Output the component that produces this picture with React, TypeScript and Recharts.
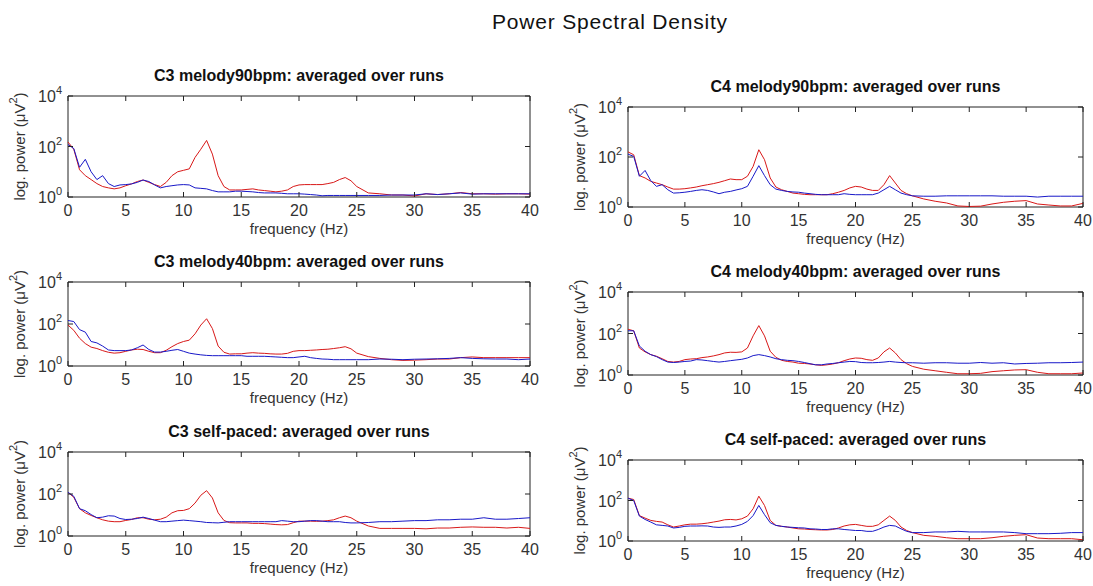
import { LineChart, Line, XAxis, YAxis, ReferenceArea } from 'recharts';

// frequency grid (Hz): 0.5 Hz up to 25, then 1 Hz
const freq = [
    0, 0.5, 1, 1.5, 2, 2.5, 3, 3.5, 4, 4.5,
    5, 5.5, 6, 6.5, 7, 7.5, 8, 8.5, 9, 9.5,
    10, 10.5, 11, 11.5, 12, 12.5, 13, 13.5, 14, 14.5,
    15, 15.5, 16, 16.5, 17, 17.5, 18, 18.5, 19, 19.5,
    20, 20.5, 21, 21.5, 22, 22.5, 23, 23.5, 24, 24.5,
    25, 26, 27, 28, 29, 30, 31, 32, 33, 34, 35, 36, 37, 38, 39, 40,
];

const xTicks = [0, 5, 10, 15, 20, 25, 30, 35, 40];
const yTicks = [1, 100, 10000];
const yTickExp = ['0', '2', '4'];

// power values (µV^2)
const c3m90Red = [
    150, 78, 12, 7, 4.9, 3.4, 2.6, 2.3, 2.1, 2.3,
    2.8, 3.3, 4.1, 4.7, 3.8, 3.1, 2.6, 3.8, 7, 10,
    11.4, 13, 37, 78, 174, 50, 7, 2.6, 1.9, 1.9,
    1.9, 2.0, 2.1, 1.9, 1.8, 1.7, 1.6, 1.7, 1.9, 2.6,
    3.0, 3.1, 3.1, 3.1, 3.1, 3.4, 3.8, 4.9, 5.9, 4.4,
    2.6, 1.45, 1.34, 1.2, 1.2, 1.1, 1.34, 1.25, 1.34, 1.5, 1.34, 1.34, 1.3, 1.34, 1.34, 1.3,
];
const c3m90Blue = [
    120, 83, 15, 31, 10, 4.9, 7, 3.4, 2.6, 3.0,
    3.1, 3.3, 3.8, 4.7, 4.1, 3.0, 2.3, 2.6, 2.8, 3.0,
    3.1, 3.0, 2.3, 2.2, 2.1, 1.8, 1.6, 1.6, 1.6, 1.7,
    1.7, 1.65, 1.6, 1.5, 1.45, 1.45, 1.45, 1.4, 1.34, 1.34,
    1.34, 1.3, 1.25, 1.2, 1.12, 1.15, 1.15, 1.15, 1.15, 1.15,
    1.15, 1.15, 1.15, 1.2, 1.2, 1.2, 1.34, 1.25, 1.34, 1.45, 1.3, 1.34, 1.34, 1.34, 1.34, 1.34,
];
const c4m90Red = [
    160, 123, 18, 14.5, 10.6, 9.1, 7.8, 6.3, 5.2, 5.2,
    5.4, 5.8, 6.3, 7.1, 7.8, 8.6, 9.7, 11.3, 13.2, 12.4,
    12.4, 17, 42, 195, 78, 14.5, 6.3, 4.9, 4.2, 3.6,
    3.4, 3.2, 3.1, 3.1, 3.1, 3.1, 3.4, 3.9, 4.6, 5.8,
    6.7, 6.3, 5.2, 4.6, 4.6, 7.8, 18, 9.1, 4.6, 3.4,
    2.8, 2.1, 1.7, 1.45, 1.1, 1.05, 1.08, 1.32, 1.54, 1.7, 1.8, 1.32, 1.2, 1.1, 1.1, 1.4,
];
const c4m90Blue = [
    130, 106, 17, 29, 11.3, 6.7, 7.8, 4.9, 3.6, 3.7,
    3.9, 4.2, 4.6, 4.9, 4.6, 4.0, 3.4, 3.9, 4.2, 4.8,
    5.4, 6.7, 17, 45, 18, 7.8, 5.2, 4.6, 4.2, 4.0,
    3.9, 3.6, 3.4, 3.2, 3.1, 3.1, 3.1, 3.1, 3.4, 3.2,
    3.1, 3.1, 3.1, 3.1, 3.6, 4.9, 6.7, 4.9, 3.6, 3.1,
    2.8, 2.7, 2.7, 2.8, 2.8, 2.8, 2.8, 2.8, 2.7, 2.7, 2.7, 2.5, 2.7, 2.7, 2.7, 2.7,
];
const c3m40Red = [
    89, 50, 21, 11.7, 7.9, 6.8, 5.4, 4.5, 4.1, 4.3,
    5, 5.8, 6.3, 6.1, 5, 4.3, 4.3, 5.6, 8.3, 11.7,
    14.7, 17, 34, 89, 178, 61, 8.9, 4.5, 3.7, 3.8,
    3.8, 4.1, 4.3, 4.1, 4.0, 3.8, 3.7, 3.7, 4.0, 5,
    5.4, 5.4, 5.6, 5.8, 6.1, 6.3, 6.8, 7.4, 8.3, 6.6,
    4.1, 2.8, 2.3, 2.0, 1.85, 1.9, 2.0, 2.15, 2.15, 2.5, 2.7, 2.5, 2.5, 2.5, 2.5, 2.5,
];
const c3m40Blue = [
    147, 131, 54, 41, 14.7, 12.6, 8.9, 5.8, 5.4, 5.4,
    5.4, 5.8, 7.4, 10, 6.1, 4.6, 4.6, 5, 5.6, 6.1,
    5, 4.1, 3.7, 3.4, 3.2, 3.1, 3.1, 3.1, 3.1, 3.1,
    3.1, 2.9, 2.9, 2.9, 2.9, 2.8, 2.7, 2.6, 2.5, 2.5,
    2.7, 2.9, 2.5, 2.3, 2.15, 2.1, 2.0, 2.0, 2.0, 2.0,
    2.0, 2.0, 2.15, 2.1, 2.0, 2.1, 2.15, 2.2, 2.3, 2.5, 2.3, 2.2, 2.15, 2.15, 2.0, 2.15,
];
const c4m40Red = [
    160, 135, 20, 13, 9.6, 8, 6.1, 4.5, 4.2, 4.5,
    5.5, 5.9, 6.1, 6.9, 7.4, 8.3, 9.6, 11.6, 12.5, 12.3,
    13, 20, 77, 240, 77, 14, 7.1, 5.1, 4.5, 4.2,
    3.7, 3.6, 3.4, 3.1, 2.9, 3.1, 3.4, 3.9, 4.9, 5.9,
    6.6, 6.4, 5.5, 5.1, 6.6, 13, 20, 11.6, 5.5, 3.5,
    2.6, 1.9, 1.6, 1.35, 1.15, 1.15, 1.2, 1.45, 1.6, 1.75, 1.8, 1.35, 1.15, 1.15, 1.15, 1.25,
];
const c4m40Blue = [
    135, 135, 25, 14, 9.6, 7.7, 5.5, 4.2, 4.0, 4.2,
    4.5, 4.7, 5.5, 5.3, 4.9, 4.5, 4.2, 4.5, 4.9, 5.3,
    5.7, 6.6, 8.6, 9.6, 8.6, 7.4, 6.1, 5.5, 5.1, 4.9,
    4.5, 4.0, 3.5, 3.1, 3.1, 3.4, 3.6, 3.9, 4.2, 4.5,
    4.4, 4.0, 3.9, 3.9, 4.0, 4.2, 4.5, 4.2, 4.0, 3.9,
    3.9, 3.7, 3.9, 3.9, 3.7, 3.7, 4.0, 3.7, 3.9, 3.4, 3.6, 3.7, 3.9, 3.9, 4.0, 4.2,
];
const c3selfRed = [
    120, 70, 20, 12.7, 9.5, 7.4, 5.9, 5.1, 4.8, 4.8,
    5.5, 6.1, 7.4, 7.4, 6.3, 5.9, 6.3, 7.9, 12.7, 16,
    16.5, 20, 37, 87, 144, 65, 12.7, 5.5, 4.3, 4.2,
    4.2, 4.2, 4.0, 4.0, 3.9, 3.7, 3.5, 3.4, 3.5, 4.3,
    5.1, 5.1, 5.1, 5.0, 5.1, 5.4, 5.9, 7.4, 8.9, 7.4,
    5.1, 3.0, 2.3, 2.3, 2.3, 2.3, 2.2, 2.4, 2.4, 2.6, 2.7, 2.6, 2.6, 2.4, 2.6, 2.3,
];
const c3selfBlue = [
    120, 78, 20, 16, 10.5, 7.4, 7.9, 9.2, 8.9, 6.8,
    6.1, 6.3, 6.8, 7.9, 6.8, 5.7, 4.8, 4.8, 5.1, 5.4,
    5.7, 5.4, 5.1, 4.8, 4.4, 4.3, 4.2, 4.5, 4.8, 4.8,
    4.8, 4.8, 4.8, 4.8, 4.8, 4.8, 4.8, 5.4, 5.1, 4.8,
    4.8, 5.1, 5.4, 5.4, 5.1, 4.8, 4.8, 4.8, 4.4, 4.2,
    4.2, 4.4, 4.8, 4.8, 5.1, 5.4, 5.4, 5.9, 5.9, 6.3, 6.3, 7.4, 6.3, 6.3, 6.8, 7.4,
];
const c4selfRed = [
    130, 112, 18, 13.5, 10.4, 9.3, 8.6, 6.3, 4.9, 5.5,
    6.3, 6.8, 6.8, 7.1, 7.7, 8.6, 9.6, 11.2, 11.6, 11,
    12.5, 17, 39, 163, 57, 10.4, 5.9, 5.3, 4.9, 4.4,
    4.0, 3.9, 3.7, 3.6, 3.5, 3.5, 3.7, 4.4, 5.5, 6.3,
    6.6, 5.9, 5.3, 5.3, 6.3, 10.4, 17, 10.4, 4.9, 3.3,
    2.6, 1.9, 1.7, 1.45, 1.3, 1.3, 1.3, 1.45, 1.7, 1.9, 2.05, 1.4, 1.3, 1.3, 1.3, 1.15,
];
const c4selfBlue = [
    130, 100, 17, 11.6, 8.6, 6.3, 5.9, 5.5, 4.4, 4.7,
    5.3, 5.5, 5.5, 5.6, 5.5, 4.9, 4.7, 4.9, 4.9, 5.5,
    6.6, 9.3, 18, 57, 20, 8, 5.9, 5.3, 4.9, 4.7,
    4.5, 4.4, 4.0, 3.9, 3.7, 3.7, 4.0, 4.0, 3.7, 3.5,
    3.3, 3.3, 3.0, 3.0, 3.7, 4.9, 5.9, 5.5, 4.0, 3.0,
    2.6, 2.6, 2.8, 2.8, 3.0, 2.8, 2.8, 2.8, 2.8, 2.6, 2.3, 2.3, 2.3, 2.4, 2.6, 2.6,
];

const FONT = '"Liberation Sans", Arial, sans-serif';
const INK = '#222';
const TM = 4; // tick margin
const Y_AXIS_W = 70;
const X_AXIS_H = 50;
const PAD_TOP = 18; // room above the box for the 10^4 label

const XTick = ({ x, y, payload, plotH }: any) => {
    const ay = y - TM;
    return (
        <g>
            <line x1={x} x2={x} y1={ay} y2={ay - 5} stroke={INK} />
            <line x1={x} x2={x} y1={ay - plotH} y2={ay - plotH + 5} stroke={INK} />
            <text x={x} y={ay + 19} textAnchor="middle" fontSize={16} fill="#333" fontFamily={FONT}>
                {payload.value}
            </text>
        </g>
    );
};

const YTick = ({ x, y, index, plotW }: any) => {
    const ax = x + TM;
    return (
        <g>
            <line x1={ax} x2={ax + 5} y1={y} y2={y} stroke={INK} />
            <line x1={ax + plotW} x2={ax + plotW - 5} y1={y} y2={y} stroke={INK} />
            <text x={ax - 6} y={y + 6} textAnchor="end" fontSize={16} fill="#333" fontFamily={FONT}>
                10<tspan dy={-8} fontSize={11}>{yTickExp[index]}</tspan>
            </text>
        </g>
    );
};

const YLabel = ({ viewBox }: any) => {
    const cx = viewBox.x + viewBox.width - 49;
    const cy = viewBox.y + viewBox.height / 2;
    return (
        <text
            x={cx}
            y={cy}
            transform={`rotate(-90 ${cx} ${cy})`}
            textAnchor="middle"
            dominantBaseline="central"
            fontSize={15}
            fill="#333"
            fontFamily={FONT}
        >
            log. power (μV<tspan dy={-6} fontSize={11}>2</tspan><tspan dy={6}>)</tspan>
        </text>
    );
};

const XLabel = ({ viewBox }: any) => (
    <text
        x={viewBox.x + viewBox.width / 2}
        y={viewBox.y + 37}
        textAnchor="middle"
        fontSize={15}
        fill="#333"
        fontFamily={FONT}
    >
        frequency (Hz)
    </text>
);

interface PanelProps {
    title: string;
    left: number;
    top: number;
    w: number;
    h: number;
    red: number[];
    blue: number[];
}

const Panel = ({ title, left, top, w, h, red, blue }: PanelProps) => {
    const data = freq.map((f, i) => ({ f, red: red[i], blue: blue[i] }));
    return (
        <>
            <div
                style={{
                    position: 'absolute', left, top: top - 30, width: w, textAlign: 'center',
                    fontFamily: FONT, fontWeight: 'bold', fontSize: 16, lineHeight: '20px', color: '#111',
                }}
            >
                {title}
            </div>
            <div style={{ position: 'absolute', left: left - Y_AXIS_W, top: top - PAD_TOP }}>
                <LineChart
                    width={w + Y_AXIS_W + 15}
                    height={h + PAD_TOP + X_AXIS_H}
                    data={data}
                    margin={{ top: PAD_TOP, right: 15, left: 0, bottom: 0 }}
                >
                    <XAxis
                        dataKey="f"
                        type="number"
                        domain={[0, 40]}
                        ticks={xTicks}
                        height={X_AXIS_H}
                        axisLine={false}
                        tickLine={false}
                        tickSize={0}
                        tickMargin={TM}
                        interval={0}
                        tick={(p: any) => <XTick {...p} plotH={h} />}
                        label={{ content: XLabel }}
                    />
                    <YAxis
                        scale="log"
                        domain={[1, 10000]}
                        allowDataOverflow
                        ticks={yTicks}
                        width={Y_AXIS_W}
                        axisLine={false}
                        tickLine={false}
                        tickSize={0}
                        tickMargin={TM}
                        interval={0}
                        tick={(p: any) => <YTick {...p} plotW={w} />}
                        label={{ content: YLabel }}
                    />
                    <ReferenceArea
                        x1={0}
                        x2={40}
                        y1={1}
                        y2={10000}
                        fill="none"
                        stroke={INK}
                        strokeWidth={1}
                        ifOverflow="visible"
                    />
                    <Line type="linear" dataKey="red" stroke="#d81818" strokeWidth={1} dot={false} isAnimationActive={false} />
                    <Line type="linear" dataKey="blue" stroke="#1818c8" strokeWidth={1} dot={false} isAnimationActive={false} />
                </LineChart>
            </div>
        </>
    );
};

export default function App() {
    return (
        <div style={{ position: 'absolute', left: 0, top: 0, width: 1093, height: 586, background: '#fff', overflow: 'hidden' }}>
            <div
                style={{
                    position: 'absolute', left: 360, top: 10, width: 500, textAlign: 'center',
                    fontFamily: FONT, fontSize: 21, letterSpacing: 0.8, lineHeight: '24px', color: '#111',
                }}
            >
                Power Spectral Density
            </div>
            <Panel title="C3 melody90bpm: averaged over runs" left={68} top={96} w={462} h={101} red={c3m90Red} blue={c3m90Blue} />
            <Panel title="C4 melody90bpm: averaged over runs" left={628} top={107} w={455} h={100} red={c4m90Red} blue={c4m90Blue} />
            <Panel title="C3 melody40bpm: averaged over runs" left={68} top={282} w={462} h={84} red={c3m40Red} blue={c3m40Blue} />
            <Panel title="C4 melody40bpm: averaged over runs" left={628} top={292} w={455} h={83} red={c4m40Red} blue={c4m40Blue} />
            <Panel title="C3 self-paced: averaged over runs" left={68} top={452} w={462} h={84} red={c3selfRed} blue={c3selfBlue} />
            <Panel title="C4 self-paced: averaged over runs" left={628} top={460} w={455} h={81} red={c4selfRed} blue={c4selfBlue} />
        </div>
    );
}
